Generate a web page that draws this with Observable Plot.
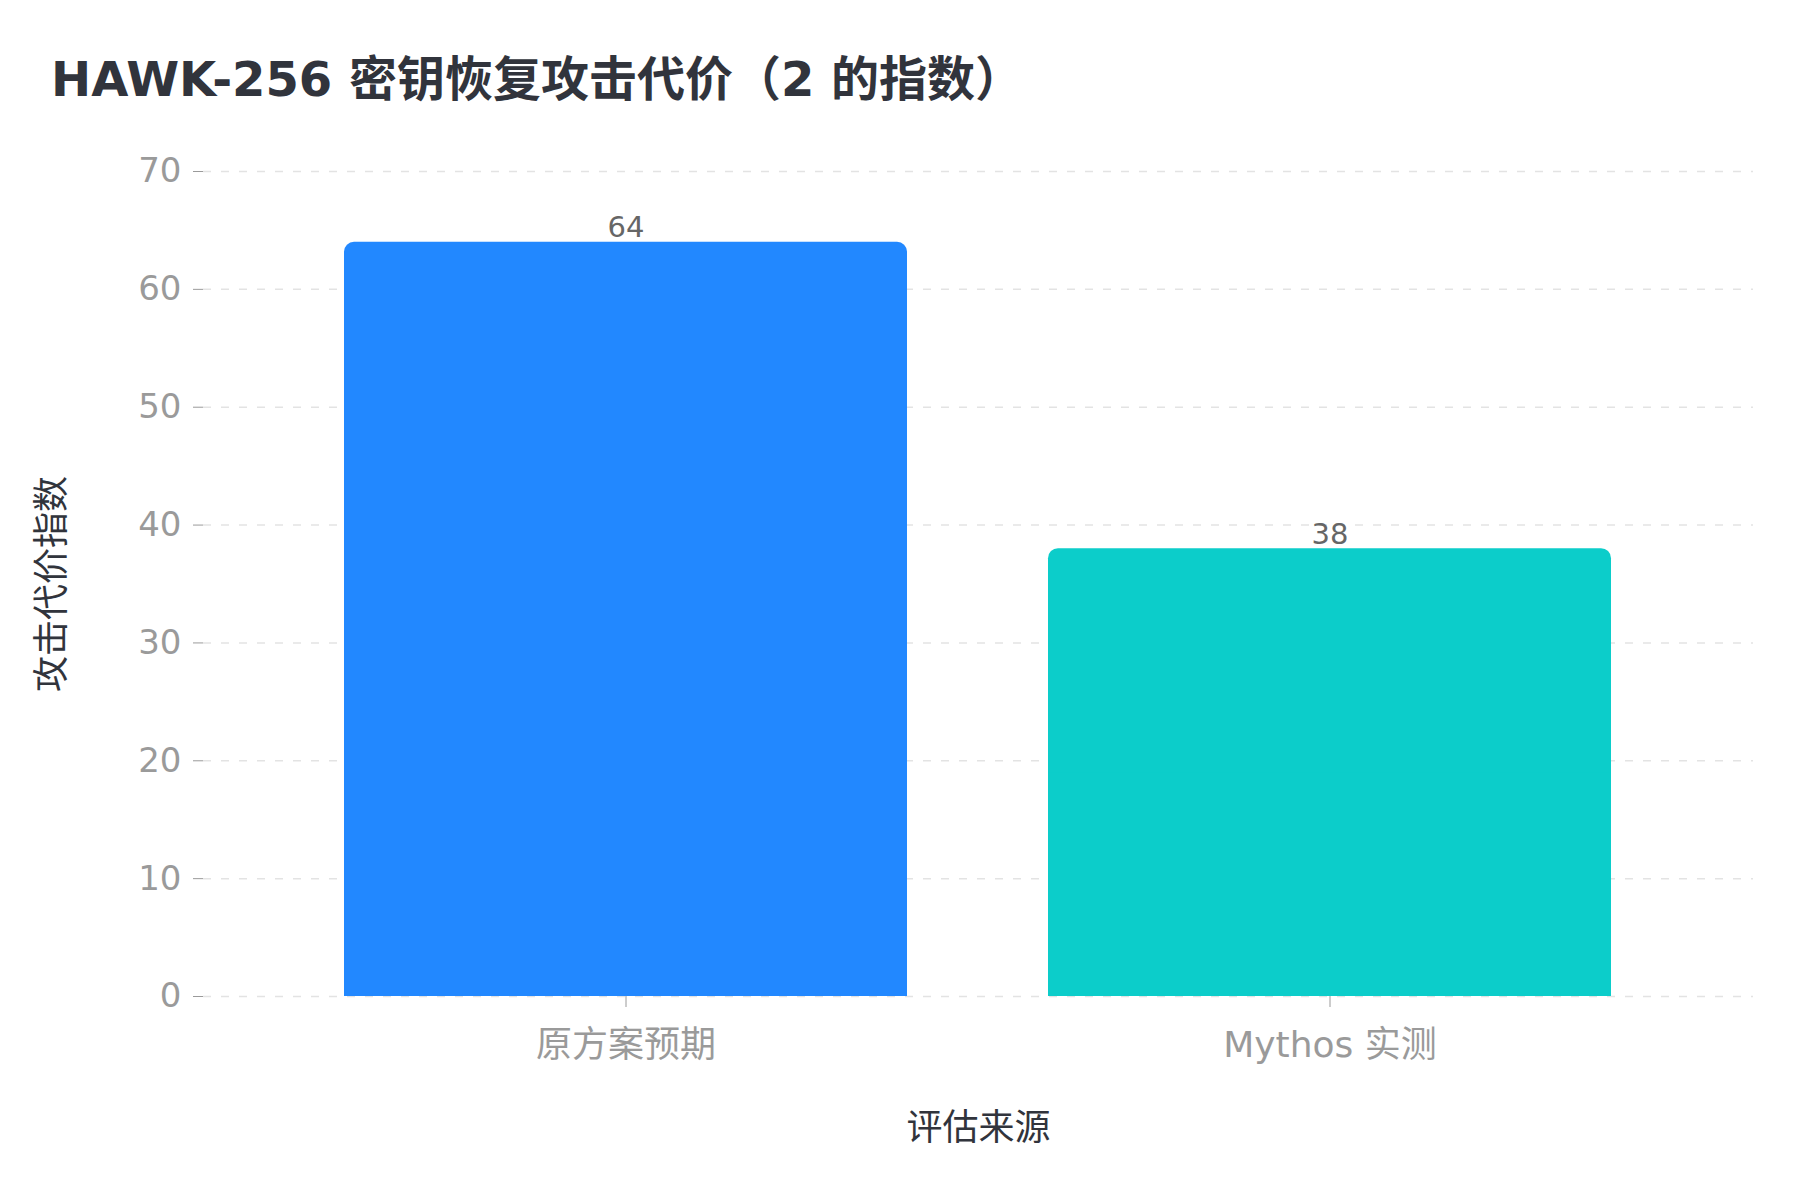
<!DOCTYPE html>
<html>
<head>
<meta charset="utf-8">
<script src="https://cdn.jsdelivr.net/npm/d3@7"></script>
<script src="https://cdn.jsdelivr.net/npm/@observablehq/plot@0.6"></script>
<style>
  html, body { margin: 0; padding: 0; background: #ffffff; }
  body { width: 1800px; height: 1200px; position: relative; overflow: hidden; }
  #title { position: absolute; left: 51px; top: 55px; font-family: "DejaVu Sans", "Noto Sans CJK SC", sans-serif; font-weight: bold; font-size: 48px; line-height: 1; color: #31343c; white-space: nowrap; }
  #chart { position: absolute; left: 0; top: 130px; }
</style>
</head>
<body>
<div id="title">HAWK-256 密钥恢复攻击代价（2 的指数）</div>
<div id="chart"></div>
<script>
const categories = ["原方案预期", "Mythos 实测"];
const values = [64, 38];
const colors = ["#2288ff", "#0ccdca"];
const yTicks = [0, 10, 20, 30, 40, 50, 60, 70];
const yLabel = "攻击代价指数";
const xLabel = "评估来源";

const data = categories.map((c, i) => ({cat: c, value: values[i]}));
const font = "'DejaVu Sans', 'Noto Sans CJK SC', sans-serif";

const chart = Plot.plot({
  width: 1800,
  height: 1070,
  marginTop: 41,
  marginBottom: 204,
  marginLeft: 203,
  marginRight: 47,
  style: {fontFamily: font, background: "#ffffff"},
  x: {domain: categories, padding: 0.2},
  y: {domain: [0, 70]},
  color: {domain: categories, range: colors},
  marks: [
    Plot.gridY(yTicks, {stroke: "#e3e3e3", strokeOpacity: 1, strokeWidth: 1.5, strokeDasharray: "8,10"}),
    // rounded bar (top corners visible)
    Plot.barY(data, {x: "cat", y: "value", fill: "cat", rx: 10, ry: 10}),
    // square lower half so only the top corners stay rounded
    Plot.barY(data, {x: "cat", y1: 0, y2: d => d.value / 2, fill: "cat"}),
    Plot.text(data, {x: "cat", y: "value", text: d => String(d.value), lineAnchor: "bottom", dy: -5, fontSize: 29, fill: "#666666"}),
    Plot.axisY(yTicks, {tickSize: 10, tickPadding: 12, fontSize: 34, color: "#9a9a9a", label: null}),
    Plot.axisX({tickSize: 11, tickPadding: 24, fontSize: 36, color: "#9a9a9a", label: null}),
    Plot.text([yLabel], {frameAnchor: "left", dx: -151, rotate: -90, fontSize: 36, fill: "#31343c", textAnchor: "middle", lineAnchor: "middle"}),
    Plot.text([xLabel], {frameAnchor: "bottom", dy: 132, fontSize: 36, fill: "#31343c", textAnchor: "middle", lineAnchor: "middle"})
  ]
});
document.getElementById("chart").appendChild(chart);
</script>
</body>
</html>
